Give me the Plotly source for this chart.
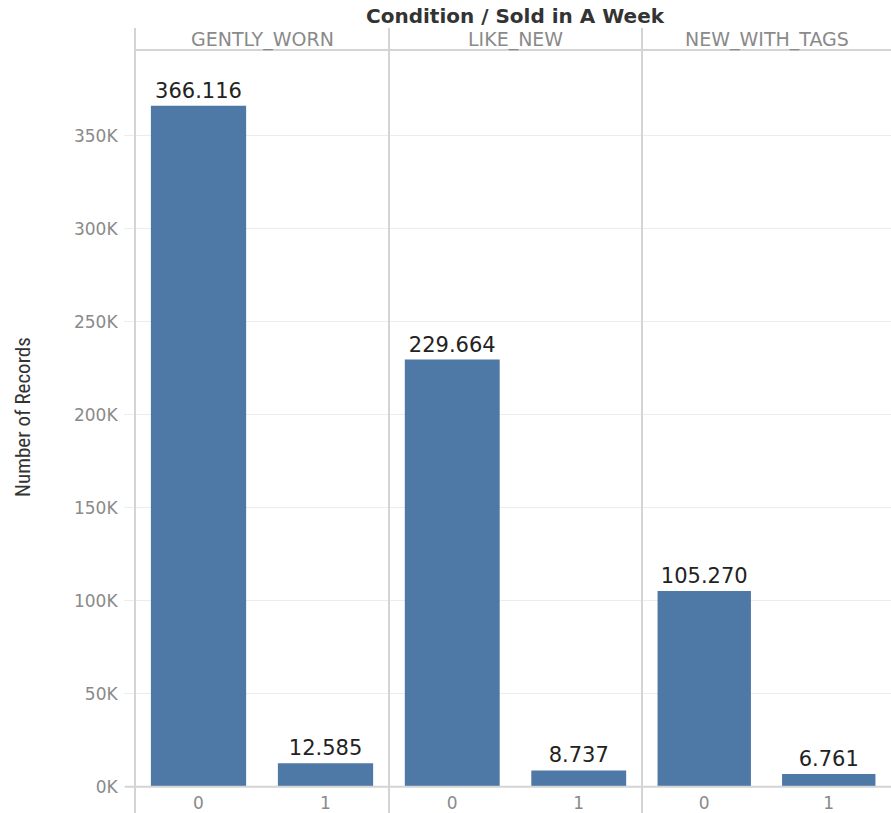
import plotly.graph_objects as go
from plotly.subplots import make_subplots

# Record counts per item condition, split by "sold in a week" flag
conditions = ["GENTLY_WORN", "LIKE_NEW", "NEW_WITH_TAGS"]
sold_flags = ["0", "1"]
records = {
    "GENTLY_WORN": [366116, 12585],
    "LIKE_NEW": [229664, 8737],
    "NEW_WITH_TAGS": [105270, 6761],
}
y_tick_values = [0, 50000, 100000, 150000, 200000, 250000, 300000, 350000]
y_tick_labels = ["0K", "50K", "100K", "150K", "200K", "250K", "300K", "350K"]

W, H = 891, 813
BAR = "#4e78a5"
GRID = "#ececec"
RULE = "#d4d4d4"
TICK_FONT = dict(family="DejaVu Sans", size=17, color="#8a8a8a")


def fmt(v):
    # thousands separated with a dot
    return f"{v:,}".replace(",", ".")


fig = make_subplots(rows=1, cols=3, shared_yaxes=True, horizontal_spacing=0)

for i, cond in enumerate(conditions):
    vals = records[cond]
    fig.add_trace(
        go.Bar(
            x=sold_flags,
            y=vals,
            marker=dict(color=BAR, line=dict(width=0)),
            width=0.75,
            text=[fmt(v) for v in vals],
            textposition="outside",
            textfont=dict(family="DejaVu Sans", size=21, color="#222222"),
            cliponaxis=False,
            showlegend=False,
            hoverinfo="skip",
        ),
        row=1,
        col=i + 1,
    )

# panel geometry (pixels)
left, top, bottom = 135, 50, 786.7
edges = [135, 389, 642, 891]
y_dom = [(H - bottom) / H, (H - top) / H]
y_max = (bottom - top) / 1.8600 * 1000

for i in range(3):
    xa = "xaxis" if i == 0 else f"xaxis{i + 1}"
    fig.layout[xa].update(
        domain=[edges[i] / W, edges[i + 1] / W],
        type="category",
        range=[-0.5, 1.5],
        showgrid=False,
        showline=False,
        zeroline=False,
        ticks="",
        tickfont=TICK_FONT,
        ticklabelstandoff=4,
        automargin=False,
        fixedrange=True,
    )
    ya = "yaxis" if i == 0 else f"yaxis{i + 1}"
    fig.layout[ya].update(
        domain=y_dom,
        range=[0, y_max],
        showgrid=True,
        gridcolor=GRID,
        gridwidth=1,
        zeroline=False,
        showline=False,
        tickvals=y_tick_values,
        ticktext=y_tick_labels,
        automargin=False,
        fixedrange=True,
    )

fig.layout.yaxis.update(
    ticks="outside",
    ticklen=10,
    tickcolor=GRID,
    tickfont=TICK_FONT,
    ticklabelstandoff=3,
)

shapes = []
# vertical panel dividers, running through header and footer
for x in edges[:3]:
    shapes.append(dict(type="line", xref="paper", yref="paper",
                       x0=x / W, x1=x / W, y0=0, y1=(H - 28) / H,
                       line=dict(color=RULE, width=2)))
# rule under the header row
shapes.append(dict(type="line", xref="paper", yref="paper",
                   x0=left / W, x1=1, y0=(H - top) / H, y1=(H - top) / H,
                   line=dict(color=RULE, width=2)))
# baseline
shapes.append(dict(type="line", xref="paper", yref="paper",
                   x0=125 / W, x1=1, y0=(H - bottom) / H, y1=(H - bottom) / H,
                   line=dict(color=RULE, width=2)))

annotations = []
for i, cond in enumerate(conditions):
    annotations.append(dict(
        text=cond, xref="paper", yref="paper",
        x=(edges[i] + edges[i + 1]) / 2 / W, y=(H - 39) / H,
        xanchor="center", yanchor="middle", showarrow=False,
        font=dict(family="DejaVu Sans", size=19, color="#8a8a8a"),
    ))
annotations.append(dict(
    text="<b>Condition / Sold in A Week</b>", xref="paper", yref="paper",
    x=515 / W, y=(H - 16) / H, xanchor="center", yanchor="middle",
    showarrow=False,
    font=dict(family="DejaVu Sans", size=20, color="#333333"),
))
annotations.append(dict(
    text="Number of Records", xref="paper", yref="paper",
    x=23 / W, y=(H - 417) / H, xanchor="center", yanchor="middle",
    textangle=-90, showarrow=False,
    font=dict(family="Liberation Sans Narrow, Roboto Condensed, Liberation Sans, sans-serif",
              size=21, color="#333333"),
))

fig.update_layout(
    width=W,
    height=H,
    margin=dict(l=0, r=0, t=0, b=0),
    paper_bgcolor="white",
    plot_bgcolor="white",
    bargap=0.25,
    shapes=shapes,
    annotations=annotations,
)

fig.write_html("out.html", config={"displayModeBar": False})
